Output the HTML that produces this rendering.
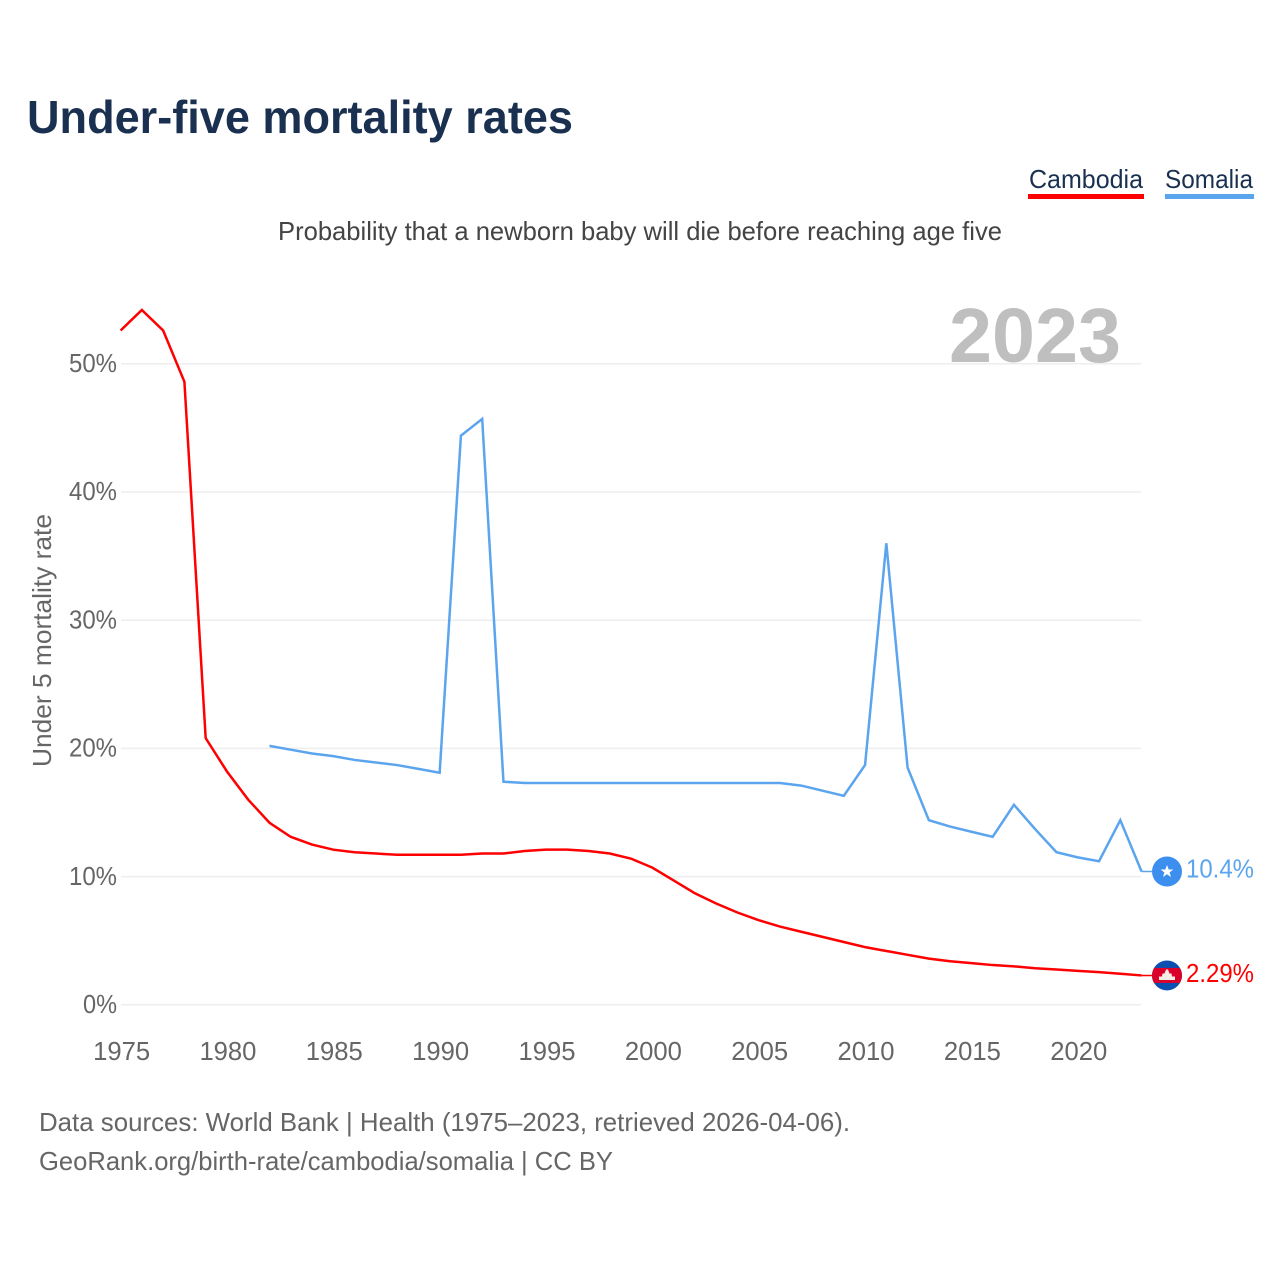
<!DOCTYPE html>
<html lang="en">
<head>
<meta charset="utf-8">
<title>Under-five mortality rates</title>
<style>
html,body{margin:0;padding:0;background:#fff;width:1280px;height:1280px;overflow:hidden}
svg{display:block;font-family:"Liberation Sans",sans-serif}
</style>
</head>
<body>
<svg id="chart" width="1280" height="1280" viewBox="0 0 1280 1280" xmlns="http://www.w3.org/2000/svg">
<defs><clipPath id="flag-clip"><circle cx="0" cy="0" r="15"/></clipPath></defs>
<rect width="1280" height="1280" fill="#fff"/>
<text x="27" y="133" font-size="46" font-weight="700" fill="#1a3050" textLength="546" lengthAdjust="spacingAndGlyphs">Under-five mortality rates</text>
<text x="278" y="240" font-size="26" fill="#444" textLength="724" lengthAdjust="spacingAndGlyphs">Probability that a newborn baby will die before reaching age five</text>
<g>
<text x="1029" y="188" font-size="26" fill="#1a3050" textLength="114" lengthAdjust="spacingAndGlyphs">Cambodia</text>
<rect x="1028" y="194" width="116" height="5" fill="#ff0000"/>
</g>
<g>
<text x="1165" y="188" font-size="26" fill="#1a3050" textLength="88" lengthAdjust="spacingAndGlyphs">Somalia</text>
<rect x="1165" y="194" width="89" height="5" fill="#5ba4ee"/>
</g>
<text x="949" y="362" font-size="77" font-weight="700" fill="#bfbfbf" textLength="172" lengthAdjust="spacingAndGlyphs">2023</text>
<text transform="translate(51,767) rotate(-90)" font-size="26" fill="#666" textLength="253" lengthAdjust="spacingAndGlyphs">Under 5 mortality rate</text>
<g id="grid"></g>
<g id="yticks"></g>
<g id="xticks"></g>
<g id="series"></g>
<g id="ends"></g>
<text x="39" y="1131" font-size="26" fill="#666" textLength="811" lengthAdjust="spacingAndGlyphs">Data sources: World Bank | Health (1975–2023, retrieved 2026-04-06).</text>
<text x="39" y="1170" font-size="26" fill="#666" textLength="574" lengthAdjust="spacingAndGlyphs">GeoRank.org/birth-rate/cambodia/somalia | CC BY</text>
</svg>
<script>
const years = [1975,1976,1977,1978,1979,1980,1981,1982,1983,1984,1985,1986,1987,1988,1989,1990,1991,1992,1993,1994,1995,1996,1997,1998,1999,2000,2001,2002,2003,2004,2005,2006,2007,2008,2009,2010,2011,2012,2013,2014,2015,2016,2017,2018,2019,2020,2021,2022,2023];
const cambodia = [52.6,54.2,52.6,48.6,20.8,18.2,16.0,14.2,13.1,12.5,12.1,11.9,11.8,11.7,11.7,11.7,11.7,11.8,11.8,12.0,12.1,12.1,12.0,11.8,11.4,10.7,9.7,8.7,7.9,7.2,6.6,6.1,5.7,5.3,4.9,4.5,4.2,3.9,3.6,3.4,3.25,3.1,3.0,2.85,2.75,2.65,2.55,2.42,2.29];
const somalia = [null,null,null,null,null,null,null,20.2,19.9,19.6,19.4,19.1,18.9,18.7,18.4,18.1,44.4,45.7,17.4,17.3,17.3,17.3,17.3,17.3,17.3,17.3,17.3,17.3,17.3,17.3,17.3,17.3,17.1,16.7,16.3,18.7,36.0,18.5,14.4,13.9,13.5,13.1,15.6,13.7,11.9,11.5,11.2,14.4,10.4];
const yTickValues = [0,10,20,30,40,50];
const yTickLabels = ["0%","10%","20%","30%","40%","50%"];
const xTickValues = [1975,1980,1985,1990,1995,2000,2005,2010,2015,2020];
const xTickLabels = ["1975","1980","1985","1990","1995","2000","2005","2010","2015","2020"];
const cambodiaEndLabel = "2.29%";
const somaliaEndLabel = "10.4%";

const NS = "http://www.w3.org/2000/svg";
const xScale = v => 120.6 + (v - 1975) * 21.27;
const yScale = v => 1004.8 - v * 12.82;
function make(tag, attrs, parent) {
  const el = document.createElementNS(NS, tag);
  for (const k in attrs) el.setAttribute(k, attrs[k]);
  parent.appendChild(el);
  return el;
}
const grid = document.getElementById("grid");
const yticks = document.getElementById("yticks");
const xticks = document.getElementById("xticks");
const seriesG = document.getElementById("series");
const ends = document.getElementById("ends");

yTickValues.forEach((v, i) => {
  const line = make("line", {x1: 121, x2: 1141, y1: yScale(v), y2: yScale(v), stroke: "#eeeeee", "stroke-width": 1.5}, grid);
  
  
  const t = make("text", {x: 117, y: yScale(v) + 8.2, "font-size": 26, fill: "#666", "text-anchor": "end"}, yticks);
  
  
  t.textContent = yTickLabels[i];
  t.setAttribute("textLength", yTickLabels[i].length === 2 ? 34 : 48);
  t.setAttribute("lengthAdjust", "spacingAndGlyphs");
});
xTickValues.forEach((v, i) => {
  const t = make("text", {x: xScale(v) + 1, y: 1060, "font-size": 26, fill: "#666", "text-anchor": "middle"}, xticks);
  
  
  t.textContent = xTickLabels[i];
  t.setAttribute("textLength", 57);
  t.setAttribute("lengthAdjust", "spacingAndGlyphs");
});
function linePoints(values) {
  const pts = [];
  values.forEach((v, i) => {
    if (v !== null) pts.push(xScale(years[i]).toFixed(2) + "," + yScale(v).toFixed(2));
  });
  return pts.join(" ");
}
const somaliaLine = make("polyline", {points: linePoints(somalia), fill: "none", stroke: "#5ba4ee", "stroke-width": 2.5, "stroke-linejoin": "miter"}, seriesG);


const cambodiaLine = make("polyline", {points: linePoints(cambodia), fill: "none", stroke: "#ff0000", "stroke-width": 2.5, "stroke-linejoin": "miter"}, seriesG);



const lastYear = years[years.length - 1];
const somaliaY = yScale(somalia[somalia.length - 1]);
const cambodiaY = yScale(cambodia[cambodia.length - 1]);
const markerX = 1167;

const somaliaTail = make("line", {x1: xScale(lastYear), x2: markerX, y1: somaliaY, y2: somaliaY, stroke: "#5ba4ee", "stroke-width": 1.5}, ends);


const cambodiaTail = make("line", {x1: xScale(lastYear), x2: markerX, y1: cambodiaY, y2: cambodiaY, stroke: "#ff0000", "stroke-width": 1.5}, ends);



const somaliaFlag = make("g", {transform: "translate(" + markerX + "," + somaliaY + ")"}, ends);


make("circle", {r: 15, fill: "#3d8fef"}, somaliaFlag);
make("polygon", {points: "0,-6.5 1.7,-2 6.4,-2 2.6,0.9 4,5.5 0,2.8 -4,5.5 -2.6,0.9 -6.4,-2 -1.7,-2", fill: "#fff"}, somaliaFlag);

const cambodiaFlag = make("g", {transform: "translate(" + markerX + "," + cambodiaY + ")", "clip-path": "url(#flag-clip)"}, ends);


make("rect", {x: -15, y: -15, width: 30, height: 30, fill: "#0c4fb0"}, cambodiaFlag);
make("rect", {x: -15, y: -7.5, width: 30, height: 15, fill: "#db0029"}, cambodiaFlag);
make("polygon", {points: "-1,-6 1,-6 2.5,-2 4.5,-2 5,1 8,1 8,4.5 -8,4.5 -8,1 -5,1 -4.5,-2 -2.5,-2", fill: "#f3eee6"}, cambodiaFlag);

const somaliaValue = make("text", {x: 1254, y: somaliaY + 6, "font-size": 26, fill: "#5ba4ee", "text-anchor": "end", textLength: 68, lengthAdjust: "spacingAndGlyphs"}, ends);


somaliaValue.textContent = somaliaEndLabel;
const cambodiaValue = make("text", {x: 1254, y: cambodiaY + 6.5, "font-size": 26, fill: "#ff0000", "text-anchor": "end", textLength: 68, lengthAdjust: "spacingAndGlyphs"}, ends);


cambodiaValue.textContent = cambodiaEndLabel;
</script>
</body>
</html>
